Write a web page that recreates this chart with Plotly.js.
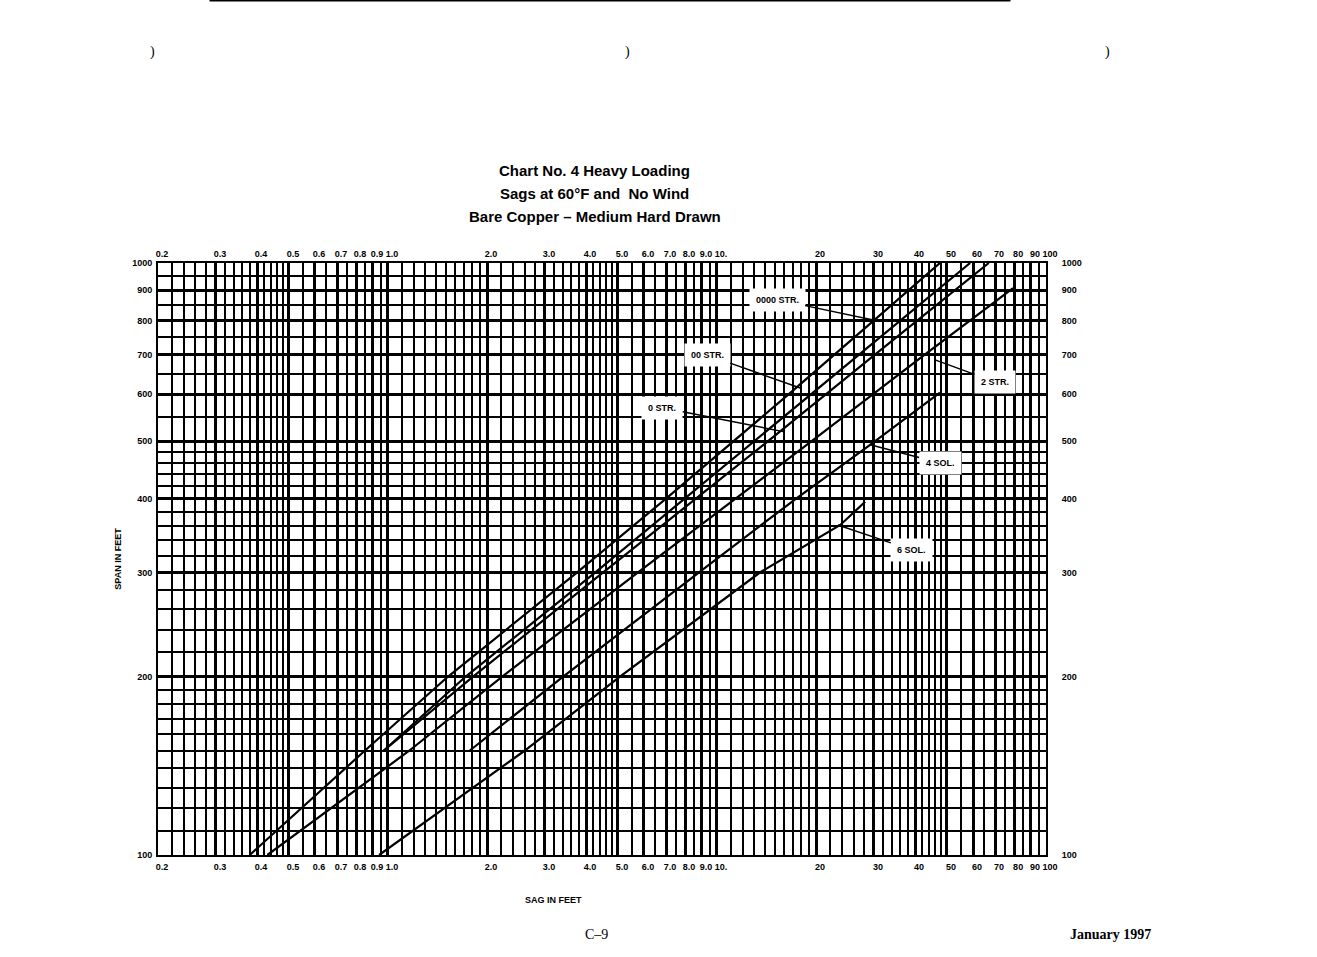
<!DOCTYPE html>
<html>
<head>
<meta charset="utf-8">
<script src="https://cdn.plot.ly/plotly-3.0.1.min.js"></script>
<style>
  html, body { margin: 0; padding: 0; background: #fff; }
  #chart { width: 1317px; height: 957px; }
</style>
</head>
<body>
<div id="chart"></div>
<script>
// ---- Data (sag in feet vs span in feet) ----
const curveNames = ["0000 STR.", "00 STR.", "0 STR.", "2 STR.", "4 SOL.", "6 SOL."];

const span0000 = [100, 150, 200, 300, 400, 600, 800, 1000];
const sag0000  = [0.38, 0.85, 1.52, 3.75, 7.0, 16.5, 30, 47.6];

const span00 = [150, 200, 300, 500, 700, 1000];
const sag00  = [0.97, 1.72, 4.26, 13.0, 27, 58.8];

const span0 = [150, 200, 300, 500, 700, 1000];
const sag0  = [0.97, 1.81, 4.5, 14.3, 30.2, 67];

const span2 = [100, 150, 200, 300, 500, 700, 907];
const sag2  = [0.43, 1.16, 2.22, 5.74, 19.4, 42.8, 79.4];

const span4 = [150, 200, 300, 400, 493, 604];
const sag4  = [1.77, 3.4, 8.8, 17.4, 29.2, 47.6];

const span6 = [100, 150, 200, 300, 361, 395];
const sag6  = [0.94, 2.6, 5.06, 13.5, 23.7, 28.2];

// Tick labels
const sagTickVals  = [0.2,0.3,0.4,0.5,0.6,0.7,0.8,0.9,1,2,3,4,5,6,7,8,9,10,20,30,40,50,60,70,80,90,100];
const sagTickText  = ["0.2","0.3","0.4","0.5","0.6","0.7","0.8","0.9","1.0","2.0","3.0","4.0","5.0","6.0","7.0","8.0","9.0","10.","20","30","40","50","60","70","80","90","100"];
const spanTickVals = [100,200,300,400,500,600,700,800,900,1000];
const spanTickText = ["100","200","300","400","500","600","700","800","900","1000"];

// Label anchor points on the curves (sag, span)
const labelSag  = [29.6, 17.9, 15.9, 46, 29.2, 23.3];
const labelSpan = [802, 615, 519, 686, 493, 361];

// ---- Grid lines of the log paper ----
function logPaper(lo, hi) {
  const v = [];
  for (let d = lo; d < hi; d *= 10) {
    for (let m = 1; m < 2 - 1e-9; m += 0.1) v.push(+(m * d).toPrecision(6));
    for (let m = 2; m < 5 - 1e-9; m += 0.2) v.push(+(m * d).toPrecision(6));
    for (let m = 5; m < 10 - 1e-9; m += 0.5) v.push(+(m * d).toPrecision(6));
  }
  v.push(hi);
  return v;
}
const xGrid = logPaper(0.1, 100).filter(v => v >= 0.2);
const yGrid = logPaper(100, 1000);

const lineStyle = {color: "#000", width: 2.2};
const spans = [span0000, span00, span0, span2, span4, span6];
const sags  = [sag0000, sag00, sag0, sag2, sag4, sag6];
const traces = curveNames.map((n, i) => ({
  type: "scatter", mode: "lines", name: n,
  x: sags[i], y: spans[i], line: lineStyle, hoverinfo: "x+y+name"
}));
// invisible companion so the top / right axes are drawn
traces.push({type: "scatter", mode: "lines", x: sag0000, y: span0000, xaxis: "x2", yaxis: "y2",
  line: {width: 0, color: "rgba(0,0,0,0)"}, hoverinfo: "skip", showlegend: false});

const FONT = "Liberation Sans, Arial, sans-serif";
const tickFont = {family: FONT, size: 9, color: "#000", weight: "bold"};

const xCommon = {
  type: "log", range: [Math.log10(0.2), 2],
  tickmode: "array", tickvals: sagTickVals, ticktext: sagTickText,
  tickfont: tickFont, ticks: "", ticklabelshift: 4,
  showline: true, linecolor: "#000", linewidth: 2,
  zeroline: false
};
const yCommon = {
  type: "log", range: [2, 3],
  tickmode: "array", tickvals: spanTickVals, ticktext: spanTickText,
  tickfont: tickFont, ticks: "",
  showline: true, linecolor: "#000", linewidth: 2,
  zeroline: false
};

const annFont = {family: FONT, size: 9, color: "#000", weight: "bold"};
const labelOffsets = [[-95, -20], [-93, -33], [-121, -24], [60, 22], [70, 18], [74, 25]];
const annotations = curveNames.map((n, i) => ({
  x: Math.log10(labelSag[i]), y: Math.log10(labelSpan[i]), xref: "x", yref: "y",
  text: n, showarrow: true, arrowhead: 0, arrowwidth: 1.5, arrowcolor: "#000",
  ax: labelOffsets[i][0], ay: labelOffsets[i][1],
  bgcolor: "#fff", borderpad: 6, font: annFont
}));

const titleLines = ["Chart No. 4 Heavy Loading", "Sags at 60°F and  No Wind", "Bare Copper – Medium Hard Drawn"];
const titleY = [1.157, 1.117, 1.078];
titleLines.forEach((t, i) => annotations.push({
  text: t, xref: "paper", yref: "paper", x: 0.492, y: titleY[i],
  showarrow: false, xanchor: "center", yanchor: "middle",
  font: {family: FONT, size: 15, color: "#000", weight: "bold"}
}));
const pageFont = {family: "Liberation Serif, Times New Roman, serif", size: 14, color: "#000"};
function px(x) { return (x - 158) / 888; }
function py(y) { return (855 - y) / 592; }
annotations.push({text: "SAG IN FEET", xref: "paper", yref: "paper", x: px(553), y: py(900),
  xanchor: "center", yanchor: "middle", showarrow: false,
  font: {family: FONT, size: 9, color: "#000", weight: "bold"}});
annotations.push({text: "C–9", xref: "paper", yref: "paper", x: px(596), y: py(934),
  xanchor: "center", yanchor: "middle", showarrow: false, font: pageFont});
annotations.push({text: "January 1997", xref: "paper", yref: "paper", x: px(1110), y: py(934),
  xanchor: "center", yanchor: "middle", showarrow: false,
  font: Object.assign({}, pageFont, {weight: "bold"})});
[[152, 52], [627, 52], [1107, 52]].forEach(p => annotations.push({
  text: ")", xref: "paper", yref: "paper", x: px(p[0]), y: py(p[1]),
  xanchor: "center", yanchor: "middle", showarrow: false,
  font: {family: "Liberation Serif, serif", size: 14, color: "#000"}
}));

const layout = {
  width: 1317, height: 957,
  margin: {l: 158, r: 271, t: 263, b: 102},
  paper_bgcolor: "#fff", plot_bgcolor: "#fff",
  showlegend: false,
  xaxis: Object.assign({}, xCommon, {
    showgrid: true, gridcolor: "#000", gridwidth: 3,
    minor: {tickmode: "array", tickvals: xGrid, showgrid: true, gridcolor: "#000", gridwidth: 2, ticks: ""},
    ticklabelstandoff: 2
  }),
  xaxis2: Object.assign({}, xCommon, {overlaying: "x", side: "top", anchor: "y2", showgrid: false, ticklabelstandoff: 0}),
  yaxis: Object.assign({}, yCommon, {
    showgrid: true, gridcolor: "#000", gridwidth: 3,
    minor: {tickmode: "array", tickvals: yGrid, showgrid: true, gridcolor: "#000", gridwidth: 2, ticks: ""},
    ticklabelstandoff: 2,
    title: {text: "SPAN IN FEET", font: {family: FONT, size: 9, color: "#000", weight: "bold"}, standoff: 9}
  }),
  yaxis2: Object.assign({}, yCommon, {overlaying: "y", side: "right", anchor: "x2", showgrid: false, ticklabelstandoff: 12}),
  annotations: annotations,
  shapes: [{type: "line", xref: "paper", yref: "paper", x0: 0.058, x1: 0.96, y0: 1.443, y1: 1.443,
            line: {color: "#000", width: 1.5}}]
};

Plotly.newPlot("chart", traces, layout, {displayModeBar: false, staticPlot: true});
</script>
</body>
</html>
